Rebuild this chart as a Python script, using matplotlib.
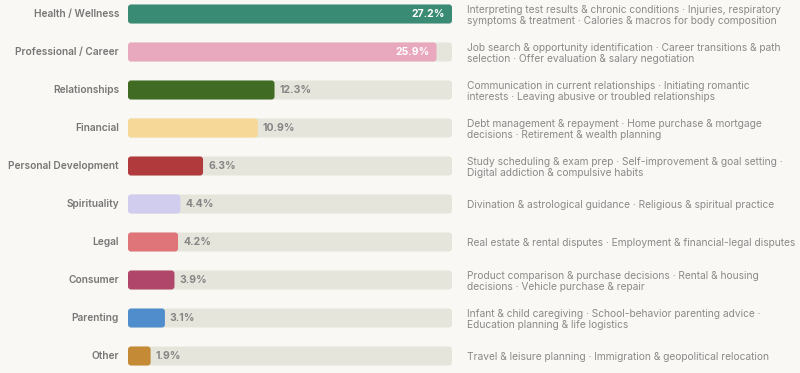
import numpy as np
import matplotlib
matplotlib.use('Agg')
import matplotlib.pyplot as plt
from matplotlib.patches import FancyBboxPatch

categories = ['Health / Wellness', 'Professional / Career', 'Relationships', 'Financial',
              'Personal Development', 'Spirituality', 'Legal', 'Consumer', 'Parenting', 'Other']
shares = [27.2, 25.9, 12.3, 10.9, 6.3, 4.4, 4.2, 3.9, 3.1, 1.9]
bar_colors = ['#3a8b73', '#e8a8bd', '#3f6b22', '#f6d898', '#b03a3c',
              '#d0cdef', '#e07579', '#b0476b', '#4f8dcc', '#c48a36']
descriptions = [
    'Interpreting test results & chronic conditions \u00b7 Injuries, respiratory\nsymptoms & treatment \u00b7 Calories & macros for body composition',
    'Job search & opportunity identification \u00b7 Career transitions & path\nselection \u00b7 Offer evaluation & salary negotiation',
    'Communication in current relationships \u00b7 Initiating romantic\ninterests \u00b7 Leaving abusive or troubled relationships',
    'Debt management & repayment \u00b7 Home purchase & mortgage\ndecisions \u00b7 Retirement & wealth planning',
    'Study scheduling & exam prep \u00b7 Self-improvement & goal setting \u00b7\nDigital addiction & compulsive habits',
    'Divination & astrological guidance \u00b7 Religious & spiritual practice',
    'Real estate & rental disputes \u00b7 Employment & financial-legal disputes',
    'Product comparison & purchase decisions \u00b7 Rental & housing\ndecisions \u00b7 Vehicle purchase & repair',
    'Infant & child caregiving \u00b7 School-behavior parenting advice \u00b7\nEducation planning & life logistics',
    'Travel & leisure planning \u00b7 Immigration & geopolitical relocation',
]
inside_label = [True, True] + [False] * 8

bg = '#faf8f4'
track = '#e6e5dc'
grey = '#858585'

plt.rcParams['font.family'] = ['Inter', 'DejaVu Sans']

W, H = 800, 373
fig = plt.figure(figsize=(W / 100, H / 100), dpi=100, facecolor=bg)
x0, x1 = 128, 452
ax = fig.add_axes([x0 / W, 0, (x1 - x0) / W, 1])
ax.set_facecolor(bg)
xmax = max(shares)
ax.set_xlim(0, xmax)
ax.set_ylim(H, 0)
ax.axis('off')

px = xmax / (x1 - x0)  # data units per pixel in x
bar_h = 19
radius = 3
ys = 14 + 38 * np.arange(len(categories))

def rbar(y, width, color):
    p = FancyBboxPatch((0, y - bar_h / 2), width, bar_h,
                       boxstyle=f'round,pad=0,rounding_size={radius * px}',
                       mutation_aspect=1 / px, fc=color, ec='none', zorder=2)
    ax.add_patch(p)

for y, cat, v, c, d, inside in zip(ys, categories, shares, bar_colors, descriptions, inside_label):
    rbar(y, xmax, track)
    rbar(y, v, c)
    if inside:
        ax.text(v - 7 * px, y, f'{v}%', ha='right', va='center', color='white',
                fontsize=7.5, fontweight='bold', zorder=3)
    else:
        ax.text(v + 5 * px, y, f'{v}%', ha='left', va='center', color=grey,
                fontsize=7.5, fontweight='bold', zorder=3)
    ax.text(-9 * px, y, cat, ha='right', va='center', color='#777777',
            fontsize=7.3, fontweight='semibold')
    ax.text(xmax + 15 * px, y + 1.5, d, ha='left', va='center', color='#8a8a8a',
            fontsize=7.35, linespacing=1.2, clip_on=False)

fig.savefig('out.png', dpi=100, facecolor=bg)
